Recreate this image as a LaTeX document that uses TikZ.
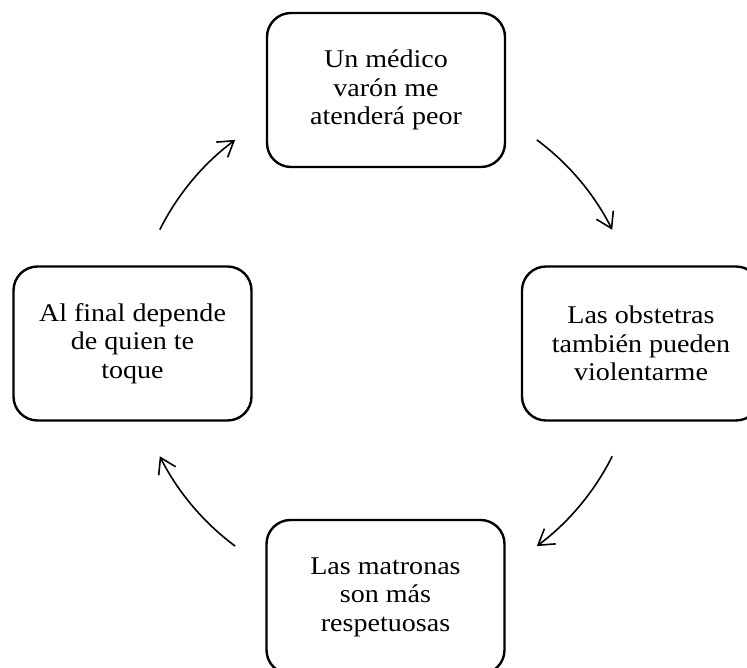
\documentclass[tikz,border=0pt]{standalone}
\usepackage{fontspec}
\setmainfont{Liberation Serif}[FakeStretch=1.1]
\usetikzlibrary{arrows.meta,calc}
\begin{document}
\begin{tikzpicture}[x=1pt,y=1pt,
  box/.style={draw, line width=2.4pt, rounded corners=24pt,
    minimum width=238pt, minimum height=154pt, inner sep=0pt,
    align=center, font=\fontsize{25.5}{28.5}\selectfont},
  flow/.style={line width=1.6pt,
    -{Straight Barb[length=15pt,width=19pt]}}]
\useasboundingbox (0,0) rectangle (747,668);
\clip (0,0) rectangle (747,668);

% the four statements of the cycle
\node[box] (top)    at (386,578)   {Un médico\\varón me\\atenderá peor};
\node[box] (right)  at (641,324.5) {Las obstetras\\también pueden\\violentarme};
\node[box] (bottom) at (385.5,71)  {Las matronas\\son más\\respetuosas};
\node[box] (left)   at (132.5,324.5) {Al final depende\\de quien te\\toque};

% circular arrows around a common centre
\coordinate (o) at (386,325);
\coordinate (a1) at ($(o)+(53.4:253)$);
\coordinate (a2) at ($(o)+(-26.6:253)$);
\coordinate (a3) at ($(o)+(-126.6:253)$);
\coordinate (a4) at ($(o)+(153.4:253)$);
\draw[flow] (a1) arc[start angle=53.4,   end angle=26.6,   radius=253];
\draw[flow] (a2) arc[start angle=-26.6,  end angle=-53.4,  radius=253];
\draw[flow] (a3) arc[start angle=-126.6, end angle=-153.4, radius=253];
\draw[flow] (a4) arc[start angle=153.4,  end angle=126.6,  radius=253];
\end{tikzpicture}
\end{document}
